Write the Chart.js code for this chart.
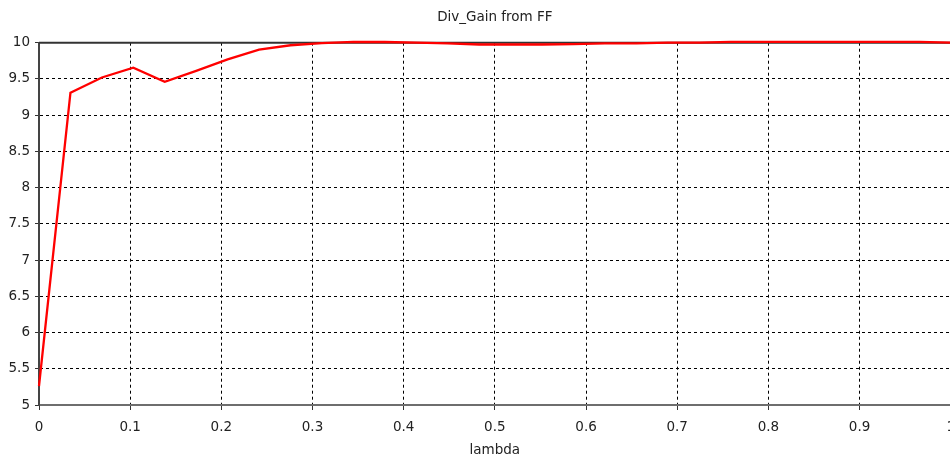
<!DOCTYPE html>
<html lang="en">
<head>
    <meta charset="UTF-8">
    <title>Div_Gain from FF</title>
    <style>
body {
    margin: 0;
    padding: 0;
    background-color: #fff;
    overflow: hidden;
}

#chart-container {
    width: 964px;
    height: 458px;
}
    </style>
</head>
<body>
    <div id="chart-container">
        <canvas id="gainChart"></canvas>
    </div>

    <script src="https://cdn.jsdelivr.net/npm/chart.js"></script>
    <script>
        // lambda sweep and the resulting divergence gain
        const lambdaValues = [0, 0.0345, 0.069, 0.1034, 0.1379, 0.1724, 0.2069, 0.2414, 0.2759, 0.3103,
                              0.3448, 0.3793, 0.4138, 0.4483, 0.4828, 0.5172, 0.5517, 0.5862, 0.6207, 0.6552,
                              0.6897, 0.7241, 0.7586, 0.7931, 0.8276, 0.8621, 0.8966, 0.931, 0.9655, 1];
        const divGain = [5.26, 9.31, 9.52, 9.655, 9.46, 9.61, 9.77, 9.905, 9.965, 9.995,
                         10.01, 10.01, 10.0, 9.99, 9.975, 9.975, 9.975, 9.98, 9.99, 9.99,
                         10.0, 10.0, 10.012, 10.012, 10.012, 10.012, 10.012, 10.012, 10.012, 10.0];

        const xTicks = [0, 0.1, 0.2, 0.3, 0.4, 0.5, 0.6, 0.7, 0.8, 0.9, 1];
        const yTicks = [5, 5.5, 6, 6.5, 7, 7.5, 8, 8.5, 9, 9.5, 10];

        const textFont = { family: 'DejaVu Sans', size: 13.5, weight: 'normal' };
        const textColor = '#222';

        // plain number labels: 10, 9.5, 0.1, 1
        const plainLabel = (value) => String(value);

        // solid frame line along the top of the plot
        const topFrame = {
            id: 'topFrame',
            beforeDatasetsDraw(chart) {
                const { ctx, chartArea } = chart;
                ctx.save();
                ctx.strokeStyle = '#333';
                ctx.lineWidth = 2;
                ctx.beginPath();
                ctx.moveTo(chartArea.left, chartArea.top);
                ctx.lineTo(chartArea.right, chartArea.top);
                ctx.stroke();
                ctx.restore();
            }
        };

        const ctx = document.getElementById('gainChart').getContext('2d');
        const chart = new Chart(ctx, {
            type: 'line',
            data: {
                datasets: [{
                    label: 'Div_Gain',
                    data: lambdaValues.map((x, i) => ({ x: x, y: divGain[i] })),
                    borderColor: '#ff0000',
                    borderWidth: 2.3,
                    pointRadius: 0,
                    tension: 0,
                    fill: false,
                    clip: false
                }]
            },
            options: {
                responsive: true,
                maintainAspectRatio: false,
                animation: false,
                layout: {
                    padding: { left: 0, right: 3, top: 0, bottom: 0 }
                },
                plugins: {
                    legend: { display: false },
                    tooltip: { enabled: false },
                    title: {
                        display: true,
                        text: 'Div_Gain from FF',
                        fullSize: false,
                        color: textColor,
                        font: textFont,
                        padding: { top: 9, bottom: 17.5 }
                    }
                },
                scales: {
                    x: {
                        type: 'linear',
                        min: 0,
                        max: 1,
                        afterBuildTicks: (scale) => { scale.ticks = xTicks.map(v => ({ value: v })); },
                        afterFit: (scale) => { scale.height = 53; },
                        ticks: {
                            autoSkip: false,
                            maxRotation: 0,
                            color: textColor,
                            font: textFont,
                            padding: 9,
                            callback: plainLabel
                        },
                        grid: {
                            color: '#000',
                            lineWidth: 1,
                            tickLength: 5,
                            tickColor: '#333'
                        },
                        border: {
                            color: '#6e6e6e',
                            width: 2,
                            dash: [3, 3]
                        },
                        title: {
                            display: true,
                            text: 'lambda',
                            color: textColor,
                            font: textFont,
                            padding: { top: 0, bottom: -1 }
                        }
                    },
                    y: {
                        min: 5,
                        max: 10,
                        afterBuildTicks: (scale) => { scale.ticks = yTicks.map(v => ({ value: v })); },
                        afterFit: (scale) => { scale.width = 39; },
                        ticks: {
                            color: textColor,
                            font: textFont,
                            padding: 5,
                            callback: plainLabel
                        },
                        grid: {
                            color: '#000',
                            lineWidth: 1,
                            tickLength: 4,
                            tickColor: '#333'
                        },
                        border: {
                            color: '#444',
                            width: 2,
                            dash: [3, 3]
                        }
                    }
                }
            },
            plugins: [topFrame]
        });
    </script>
</body>
</html>
